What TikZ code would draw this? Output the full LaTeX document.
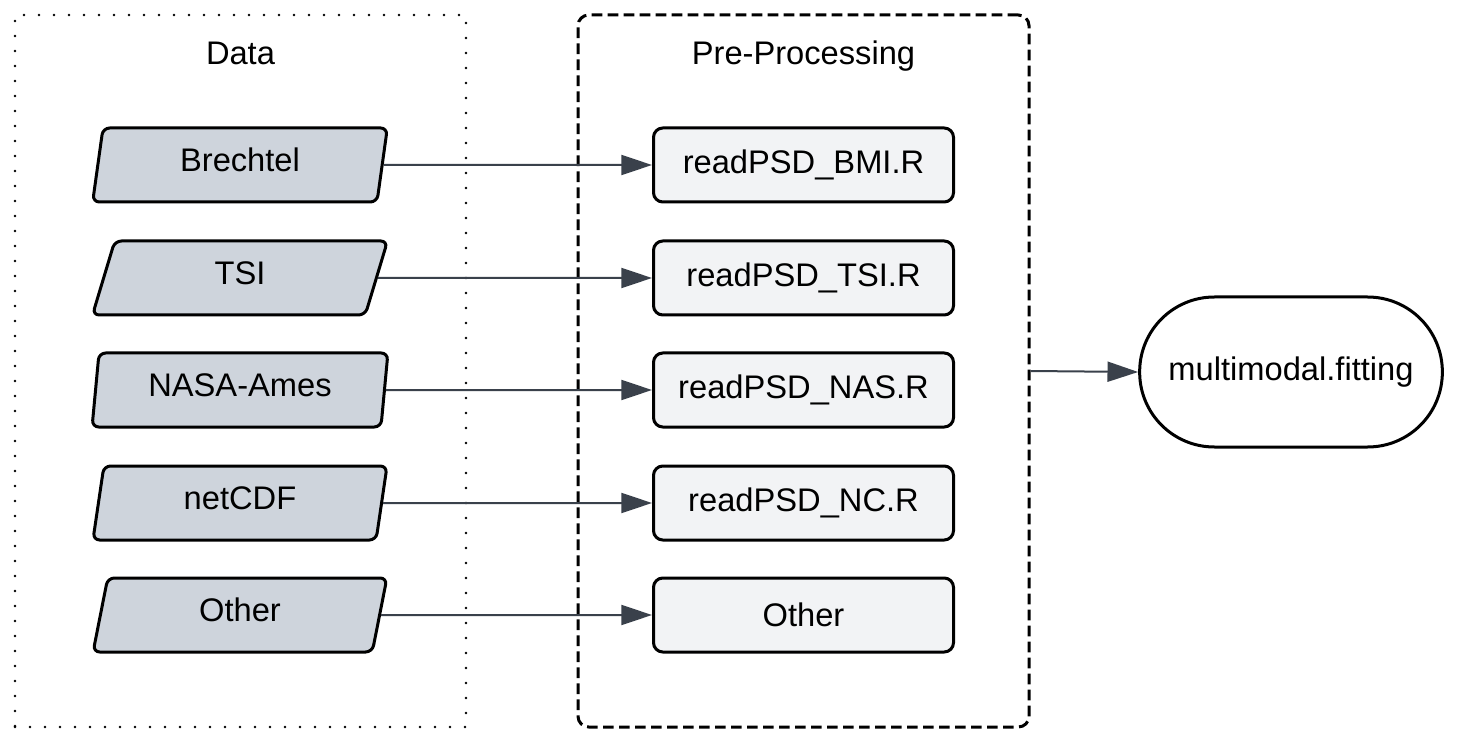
\documentclass[tikz,border=0pt]{standalone}
\usepackage{fontspec}
\setmainfont{Liberation Sans}
\usetikzlibrary{arrows.meta,shapes.geometric}
\definecolor{parafill}{HTML}{CED4DC}
\definecolor{boxfill}{HTML}{F2F3F5}
\definecolor{arrowcol}{HTML}{3A414B}
\tikzset{
  every node/.style={font=\fontsize{24.5}{29}\selectfont, text=black},
  groupbox/.style={rectangle, minimum width=338.25pt, minimum height=534pt, line width=2pt, inner sep=0pt},
  datagroup/.style={groupbox, draw, line cap=round, dash pattern=on 0pt off 11.25pt},
  pregroup/.style={groupbox, draw, line width=2.25pt, dash pattern=on 8pt off 4pt, rounded corners=8pt},
  grouptitle/.style={anchor=base},
  inputpara/.style={trapezium, trapezium left angle=76, trapezium right angle=104, trapezium stretches=true,
    minimum width=222pt, minimum height=55.5pt, draw, line width=2.25pt, fill=parafill, rounded corners=5pt, inner sep=0pt,
    text height=12pt, text depth=1.6pt},
  procbox/.style={rectangle, minimum width=225pt, minimum height=55.5pt, draw, line width=2.25pt, fill=boxfill, rounded corners=7pt},
  termbox/.style={rectangle, minimum width=227pt, minimum height=112.5pt, draw, line width=2.25pt, rounded corners=56pt},
  conn/.style={draw=arrowcol, line width=1.5pt, -{Triangle[length=23pt, width=15pt, fill=arrowcol]}}
}
\begin{document}
\begin{tikzpicture}[x=0.75pt, y=-0.75pt]
\useasboundingbox (0,0) rectangle (1457,745);
\node[datagroup] (data) at (240.5,371) {};
\node[pregroup] (pre) at (803.5,371) {};
\node[grouptitle] (datatitle) at (240.5,65) {Data};
\node[grouptitle] (pretitle) at (803.5,65) {Pre-Processing};

\node[inputpara] (d1) at (240,165) {Brechtel};
\node[inputpara] (d2) at (240,278) {TSI};
\node[inputpara] (d3) at (240,390) {NASA-Ames};
\node[inputpara] (d4) at (240,503) {netCDF};
\node[inputpara] (d5) at (240,615) {Other};

\node[procbox] (p1) at (803.5,165) {readPSD\_BMI.R};
\node[procbox] (p2) at (803.5,278) {readPSD\_TSI.R};
\node[procbox] (p3) at (803.5,390) {readPSD\_NAS.R};
\node[procbox] (p4) at (803.5,503) {readPSD\_NC.R};
\node[procbox] (p5) at (803.5,615) {Other};

\node[termbox] (mm) at (1291,372) {multimodal.fitting};

\draw[conn] (d1.east) -- (p1.west);
\draw[conn] (d2.east) -- (p2.west);
\draw[conn] (d3.east) -- (p3.west);
\draw[conn] (d4.east) -- (p4.west);
\draw[conn] (d5.east) -- (p5.west);
\draw[conn] (pre.east) -- (mm.west);
\end{tikzpicture}
\end{document}
